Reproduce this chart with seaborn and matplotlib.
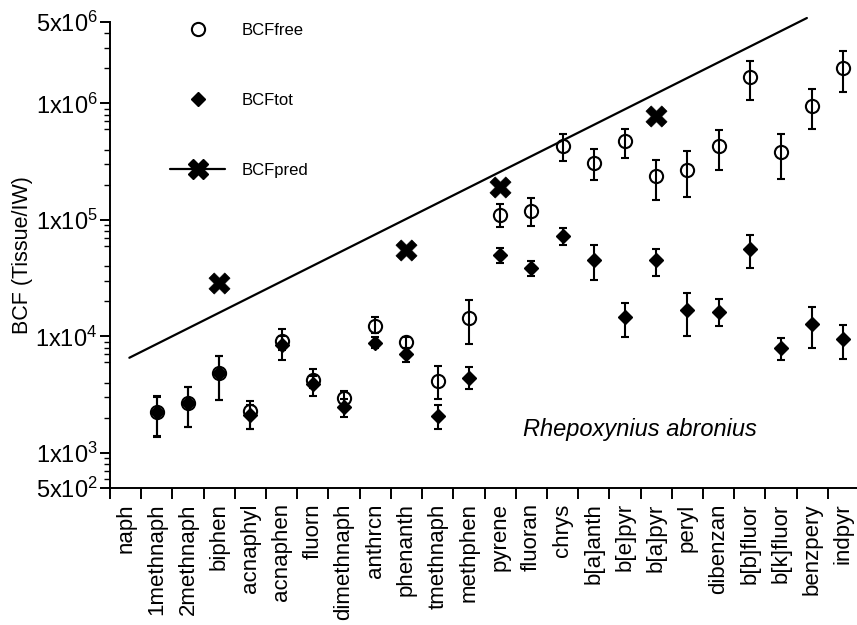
import numpy as np
import pandas as pd
import matplotlib
matplotlib.use("Agg")
import matplotlib.pyplot as plt
from matplotlib.lines import Line2D
from matplotlib.ticker import FixedLocator, NullFormatter
import seaborn as sns

# Compounds along the x axis
compounds = ["naph", "1methnaph", "2methnaph", "biphen", "acnaphyl", "acnaphen",
             "fluorn", "dimethnaph", "anthrcn", "phenanth", "tmethnaph", "methphen",
             "pyrene", "fluoran", "chrys", "b[a]anth", "b[e]pyr", "b[a]pyr", "peryl",
             "dibenzan", "b[b]fluor", "b[k]fluor", "benzpery", "indpyr"]

# BCF based on freely dissolved concentration (mean, lower, upper)
bcf_free = [np.nan, 2245, 2700, 4820, 2270, 9120, 4230, 2980, 12330, 9000, 4140, 14260,
            109400, 119100, 427700, 307600, 474000, 236600, 266000, 430000, 1.68e6,
            382000, 959000, 2.005e6]
bcf_free_lo = [np.nan, 1400, 1670, 2840, 1605, 7600, 3600, 2600, 10670, 8000, 2880, 8590,
               86900, 88100, 320000, 218000, 342000, 147200, 157000, 266000, 1.074e6,
               226000, 605000, 1.248e6]
bcf_free_hi = [np.nan, 3080, 3700, 6780, 2790, 11560, 5250, 3400, 14730, 9800, 5560, 20460,
               138000, 155300, 542000, 408000, 605000, 328700, 389000, 594000, 2.30e6,
               542000, 1.334e6, 2.84e6]

# BCF based on total concentration (mean, lower, upper)
bcf_tot = [np.nan, 2245, 2700, 4820, 2100, 8400, 3900, 2480, 8810, 7050, 2075, 4416,
           49800, 38300, 72300, 45100, 14560, 45100, 17000, 16260, 56700, 7890, 12900, 9420]
bcf_tot_lo = [np.nan, 1370, 1670, 2840, 1605, 6270, 3080, 2030, 7900, 6030, 1597, 3515,
              42700, 32900, 60500, 30300, 9800, 32900, 10060, 12330, 38300, 6270, 7890, 6350]
bcf_tot_hi = [np.nan, 3050, 3700, 6780, 2600, 10000, 4600, 2900, 9800, 7950, 2577, 5420,
              57900, 44500, 85900, 60500, 19190, 56700, 23650, 20750, 73800, 9610, 17950, 12500]

# Predicted BCF for selected compounds
pred_compounds = ["biphen", "phenanth", "pyrene", "b[a]pyr"]
bcf_pred = [28600, 55000, 191000, 787000]

# Predicted trend line (compound position, BCF) at its two ends
trend_pos = [0.12, 21.83]
trend_bcf = [6560, 5.41e6]

y_tick_values = [5e2, 1e3, 1e4, 1e5, 1e6, 5e6]
y_tick_labels = [r"$\mathregular{5x10^{2}}$", r"$\mathregular{1x10^{3}}$",
                 r"$\mathregular{1x10^{4}}$", r"$\mathregular{1x10^{5}}$",
                 r"$\mathregular{1x10^{6}}$", r"$\mathregular{5x10^{6}}$"]

sns.set_theme(style="ticks")
plt.rcParams["font.family"] = ["Liberation Sans", "DejaVu Sans"]
plt.rcParams["mathtext.fontset"] = "custom"
plt.rcParams["mathtext.rm"] = "Liberation Sans"
for key in ("text.color", "axes.labelcolor", "xtick.color", "ytick.color",
            "axes.edgecolor"):
    plt.rcParams[key] = "black"

df = pd.DataFrame({
    "compound": compounds,
    "pos": np.arange(len(compounds)),
    "free": bcf_free, "free_lo": bcf_free_lo, "free_hi": bcf_free_hi,
    "tot": bcf_tot, "tot_lo": bcf_tot_lo, "tot_hi": bcf_tot_hi,
})
pred_df = pd.DataFrame({"pos": [compounds.index(c) for c in pred_compounds],
                        "bcf": bcf_pred})
trend_df = pd.DataFrame({"pos": trend_pos, "bcf": trend_bcf})

fig = plt.figure(figsize=(8.57, 6.25), dpi=100)
ax = fig.add_axes([110 / 857, (625 - 488) / 625, 749 / 857, (488 - 22) / 625])
ax.set_yscale("log")

# trend line
sns.lineplot(data=trend_df, x="pos", y="bcf", ax=ax, color="black", lw=1.6,
             clip_on=False, zorder=2)

# free BCF: open circles with error bars
ax.errorbar(df["pos"], df["free"],
            yerr=[df["free"] - df["free_lo"], df["free_hi"] - df["free"]],
            fmt="o", ms=9.5, mfc="none", mec="black", mew=1.5, ecolor="black",
            elinewidth=1.5, capsize=2.8, capthick=1.5, zorder=3)

# total BCF: filled diamonds with error bars
ax.errorbar(df["pos"], df["tot"],
            yerr=[df["tot"] - df["tot_lo"], df["tot_hi"] - df["tot"]],
            fmt="D", ms=7.3, mfc="black", mec="black", ecolor="black",
            elinewidth=1.5, capsize=2.8, capthick=1.5, zorder=4)

# predicted BCF: bold crosses
sns.scatterplot(data=pred_df, x="pos", y="bcf", ax=ax, marker="X", s=230,
                color="black", edgecolor="black", linewidth=0.5, zorder=5)

ax.set_xlim(-0.5, len(compounds) - 0.5)
ax.set_ylim(5e2, 5e6)

# y axis
ax.yaxis.set_major_locator(FixedLocator(y_tick_values))
ax.set_yticklabels(y_tick_labels)
minor = [m * 10.0 ** e for e in range(2, 7) for m in range(2, 10)
         if 5e2 < m * 10.0 ** e < 5e6 and m != 5]
ax.yaxis.set_minor_locator(FixedLocator(minor))
ax.yaxis.set_minor_formatter(NullFormatter())
ax.tick_params(axis="y", which="major", direction="out", length=7, width=1.4,
               labelsize=17, pad=2, colors="black")
ax.tick_params(axis="y", which="minor", direction="out", length=4, width=1.0)
ax.set_ylabel("BCF (Tissue/IW)", fontsize=15.5, labelpad=2, color="black")

# x axis: labels at compounds, tick marks between them
ax.set_xticks(df["pos"])
ax.set_xticklabels(compounds, rotation=90, fontsize=16, color="black")
ax.tick_params(axis="x", which="major", length=0, pad=11)
ax.set_xticks(np.arange(len(compounds) + 1) - 0.5, minor=True)
ax.tick_params(axis="x", which="minor", direction="out", length=8, width=1.4)
ax.set_xlabel("")

for side in ("top", "right"):
    ax.spines[side].set_visible(False)
for side in ("left", "bottom"):
    ax.spines[side].set_linewidth(1.4)
    ax.spines[side].set_color("black")

ax.text(0.707, 0.125, "Rhepoxynius abronius", transform=ax.transAxes,
        fontsize=17, style="italic", ha="center", va="center", color="black")

handles = [
    Line2D([], [], ls="none", marker="o", ms=9.5, mfc="none", mec="black", mew=1.5),
    Line2D([], [], ls="none", marker="D", ms=7.3, mfc="black", mec="black"),
    Line2D([], [], color="black", lw=1.6, marker="X", ms=15, mfc="black", mec="black"),
]
ax.legend(handles, ["BCFfree", "BCFtot", "BCFpred"], loc="upper left",
          bbox_to_anchor=(170 / 857, 1 - 23 / 625), bbox_transform=fig.transFigure,
          frameon=False, fontsize=12, handlelength=3.3, handletextpad=1.0,
          labelspacing=3.3, borderpad=0, borderaxespad=0, labelcolor="black")

fig.savefig("out.png", dpi=100)
